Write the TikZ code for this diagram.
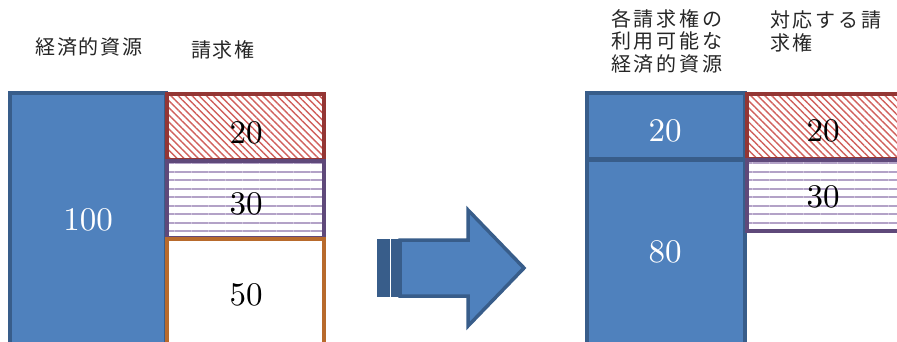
\documentclass[tikz,border=0pt]{standalone}
\usepackage{fontspec}
\newfontfamily\jp{Noto Sans CJK JP}
\newfontfamily\jpwide{Noto Sans CJK JP}[LetterSpace=14]
\newfontfamily\jpmid{Noto Sans CJK JP}[LetterSpace=9]
\newfontfamily\numfont{lmroman10-regular}[Extension=.otf]
\usetikzlibrary{patterns.meta}
\definecolor{resfill}{HTML}{4F81BD}
\definecolor{resline}{HTML}{385D8A}
\definecolor{redline}{HTML}{943634}
\definecolor{redhatch}{HTML}{D0605C}
\definecolor{purline}{HTML}{5F497A}
\definecolor{purhatch}{HTML}{B3A2C7}
\definecolor{orgline}{HTML}{B86A2C}
\tikzset{
  resbox/.style={fill=resfill, draw=resline, line width=4pt},
  redbox/.style={pattern={Lines[angle=-45,distance=5pt,line width=1.4pt]}, pattern color=redhatch, draw=redline, line width=4pt},
  purbox/.style={pattern={Lines[angle=0,distance=8.5pt,line width=2pt]}, pattern color=purhatch, draw=purline, line width=4pt},
  orgbox/.style={fill=white, draw=orgline, line width=4pt},
  numw/.style={text=white, font=\numfont\fontsize{33}{33}\selectfont, inner sep=0pt},
  numb/.style={text=black, font=\numfont\fontsize{33}{33}\selectfont, inner sep=0pt},
  jlabel/.style={font=\jpmid\fontsize{20}{22.5}\selectfont, text=black!85, inner sep=0pt, align=left},
  jlabelw/.style={jlabel, font=\jpwide\fontsize{20}{22.5}\selectfont},
}
\begin{document}
\begin{tikzpicture}[x=1pt, y=-1pt]
\useasboundingbox (0,0) rectangle (897,342);
\clip (0,0) rectangle (897,342);

% left panel: resource and claims
\draw[resbox] (10,93) rectangle (166,350);
\draw[redbox] (167,94) rectangle (324,160);
\draw[purbox] (167,161) rectangle (324,238);
\draw[orgbox] (167,239) rectangle (324,350);
\node[numw] (n100) at (88,220) {100};
\node[numb] (n20a) at (246,133) {20};
\node[numb] (n30a) at (246,204) {30};
\node[numb] (n50a) at (246,295) {50};
\node[jlabel] (lres) at (89,47) {経済的資源};
\node[jlabel] (lclaim) at (223,50) {請求権};

% striped block arrow
\fill[resline] (377,239) rectangle (389.5,297);
\fill[resline] (391,239) rectangle (400,297);
\draw[resbox, line width=3.5pt, line join=miter]
  (400,240) -- (468,240) -- (468,210) -- (524,268) -- (468,326) -- (468,296) -- (400,296) -- cycle;

% right panel: resource split per claim
\draw[resbox] (587,93) rectangle (745,159);
\draw[resbox] (587,160) rectangle (745,350);
\draw[redbox] (747,94) rectangle (905,159);
\draw[purbox] (747,160) rectangle (905,231);
\node[numw] (n20b) at (665,131) {20};
\node[numw] (n80) at (665,252) {80};
\node[numb] (n20c) at (823,131) {20};
\node[numb] (n30c) at (823,197) {30};
\node[jlabelw, anchor=north west] (lavail) at (611,9) {各請求権の\\利用可能な\\経済的資源};
\node[jlabelw, anchor=north west] (lcorr) at (770,11) {対応する請\\求権};
\end{tikzpicture}
\end{document}
